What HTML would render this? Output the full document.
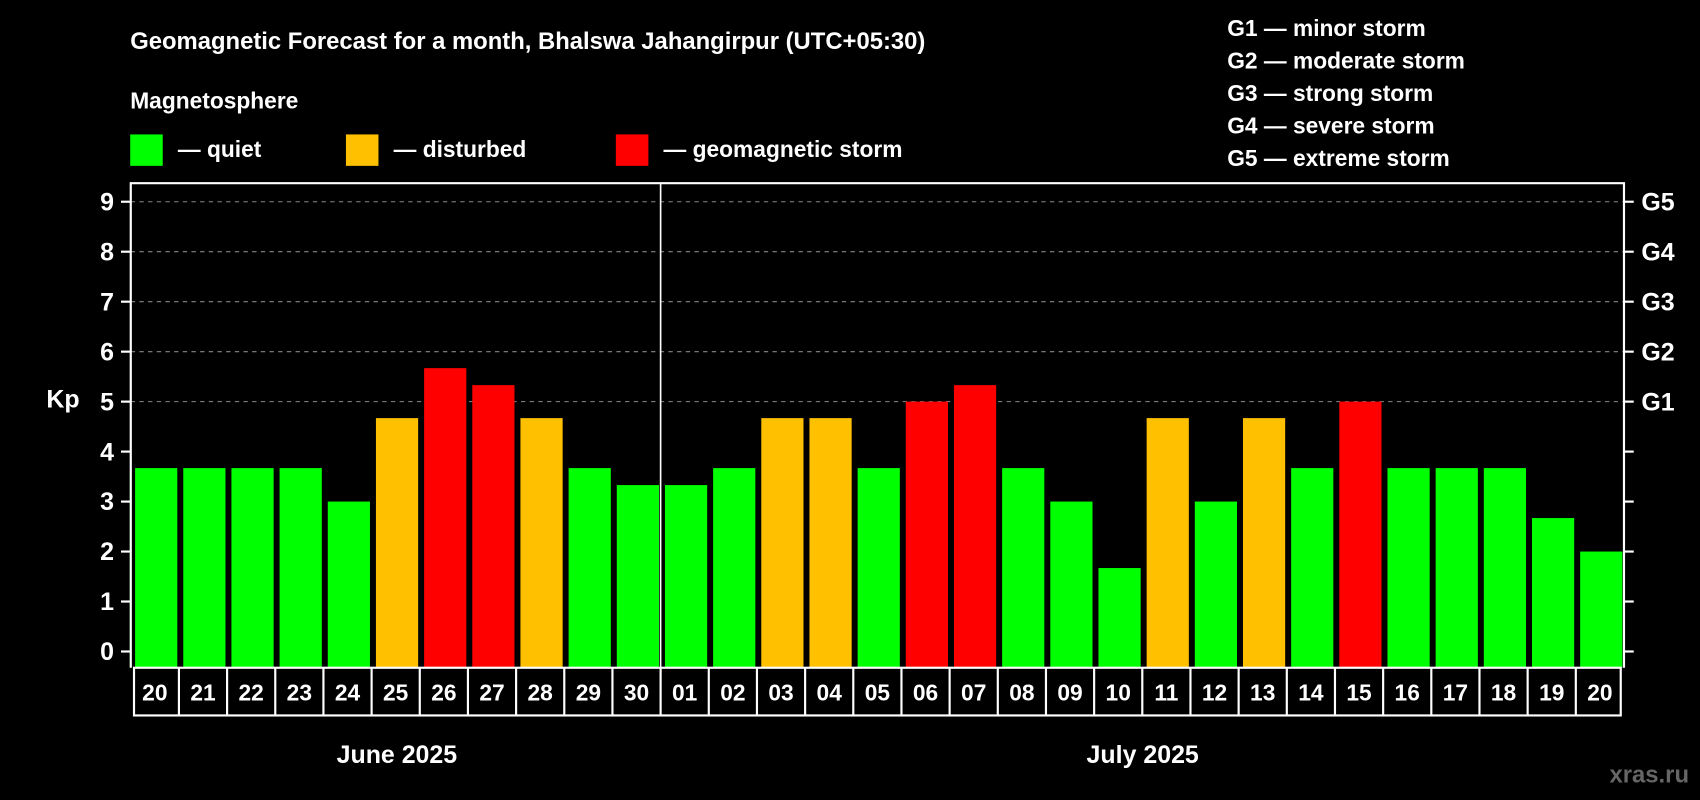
<!DOCTYPE html>
<html><head><meta charset="utf-8"><style>
html,body{margin:0;padding:0;background:#000;}
svg{display:block;font-family:"Liberation Sans",Arial,sans-serif;font-weight:bold;}
</style></head><body>
<svg id="chart" width="1700" height="800" viewBox="0 0 1568 738" xmlns="http://www.w3.org/2000/svg">
<rect x="0" y="0" width="1568" height="738" fill="#000"/>
<text x="120" y="45" fill="#fff" font-size="22">Geomagnetic Forecast for a month, Bhalswa Jahangirpur (UTC+05:30)</text>
<text x="120" y="100" fill="#fff" font-size="21">Magnetosphere</text>
<g><rect x="120" y="124" width="30" height="29" fill="#00ff00"/><text x="164" y="145" fill="#fff" font-size="21">— quiet</text></g>
<g><rect x="319" y="124" width="30" height="29" fill="#ffc000"/><text x="363" y="145" fill="#fff" font-size="21">— disturbed</text></g>
<g><rect x="568" y="124" width="30" height="29" fill="#ff0000"/><text x="612" y="145" fill="#fff" font-size="21">— geomagnetic storm</text></g>
<g fill="#fff" font-size="21">
<text x="1132" y="33">G1 — minor storm</text>
<text x="1132" y="63">G2 — moderate storm</text>
<text x="1132" y="93">G3 — strong storm</text>
<text x="1132" y="123">G4 — severe storm</text>
<text x="1132" y="153">G5 — extreme storm</text>
</g>
<text x="58" y="376" fill="#fff" font-size="23" text-anchor="middle">Kp</text>
<g id="plot"></g>
<text x="366" y="704" fill="#fff" font-size="23" text-anchor="middle">June 2025</text>
<text x="1054" y="704" fill="#fff" font-size="23" text-anchor="middle">July 2025</text>
<text x="1558" y="722" fill="#666" font-size="22" text-anchor="end">xras.ru</text>
</svg>
<script>
const days = ["20","21","22","23","24","25","26","27","28","29","30","01","02","03","04","05","06","07","08","09","10","11","12","13","14","15","16","17","18","19","20"];
const kp = [3.67,3.67,3.67,3.67,3,4.67,5.67,5.33,4.67,3.67,3.33,3.33,3.67,4.67,4.67,3.67,5,5.33,3.67,3,1.67,4.67,3,4.67,3.67,5,3.67,3.67,3.67,2.67,2];
const yTicks = [0,1,2,3,4,5,6,7,8,9];
const gLabels = ["G1","G2","G3","G4","G5"];
const gLevels = [5,6,7,8,9];
const monthSplit = 11;

const NS = "http://www.w3.org/2000/svg";
const plot = document.getElementById('plot');
const X0 = 120.5, X1 = 1498, Y0 = 601, UNIT = 46.1, TOP = 169, BOT = 616;
const slot = (X1 - X0) / days.length;
const xs = i => X0 + i * slot;
const ys = v => Y0 - v * UNIT;
function mk(tag, attrs){const e=document.createElementNS(NS,tag);for(const k in attrs)e.setAttribute(k,attrs[k]);plot.appendChild(e);return e;}
function color(v){return v>=5?"#ff0000":(v>=4?"#ffc000":"#00ff00");}

gLevels.forEach(v=>{
  const l = mk('line',{x1:X0,x2:X1,y1:ys(v),y2:ys(v),stroke:'#888','stroke-width':1,'stroke-dasharray':'4,4'});
  
  
});
kp.forEach((v,i)=>{
  const r = mk('rect',{x:xs(i)+4,y:ys(v),width:slot-5.5,height:BOT-ys(v),fill:color(v)});
  
  
});
// axes frame
const ax = mk('path',{d:`M${X0},${BOT} L${X0},${TOP} L${X1},${TOP} L${X1},${BOT}`,fill:'none',stroke:'#fff','stroke-width':2});


const sp = mk('line',{x1:xs(monthSplit),x2:xs(monthSplit),y1:TOP,y2:BOT,stroke:'#fff','stroke-width':1.5});


yTicks.forEach(v=>{
  const t = mk('line',{x1:X0-9,x2:X0,y1:ys(v),y2:ys(v),stroke:'#fff','stroke-width':2});
  
  
  const t2 = mk('line',{x1:X1,x2:X1+9,y1:ys(v),y2:ys(v),stroke:'#fff','stroke-width':2});
  
  
  const lb = mk('text',{x:105,y:ys(v)+8,fill:'#fff','font-size':23,'text-anchor':'end'});
  lb.textContent = v;
  
  
});
gLevels.forEach((v,i)=>{
  const lb = mk('text',{x:1514,y:ys(v)+8,fill:'#fff','font-size':23});
  lb.textContent = gLabels[i];
  
  
});
// date boxes
const db = mk('rect',{x:X0+3,y:BOT,width:X1-X0-6,height:44,fill:'none',stroke:'#fff','stroke-width':2});


days.forEach((d,i)=>{
  if(i>0){
    const s = mk('line',{x1:xs(i),x2:xs(i),y1:BOT,y2:BOT+44,stroke:'#fff','stroke-width':2});
    
    
  }
  const t = mk('text',{x:xs(i)+slot/2,y:BOT+30,fill:'#fff','font-size':21,'text-anchor':'middle'});
  t.textContent = d;
  
  
});
</script>
</body></html>
